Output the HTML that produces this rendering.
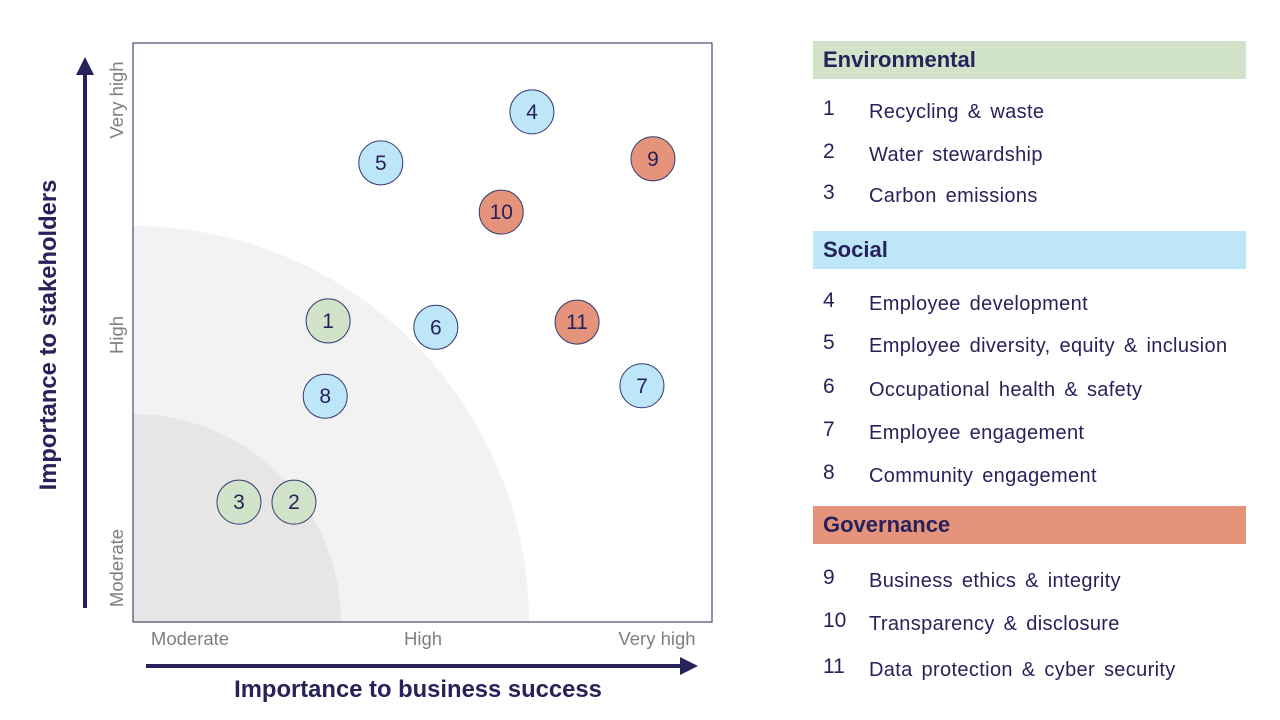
<!DOCTYPE html>
<html style="overflow:hidden"><head><meta charset="utf-8"><style>
html,body{overflow:hidden}
body{margin:0;width:1280px;height:720px;background:#fff;font-family:"Liberation Sans",sans-serif;color:#27225a;position:relative;overflow:hidden}
.hdr{position:absolute;left:813px;width:433px;height:38px;font-weight:bold;font-size:22px;line-height:38px;padding-left:10px;box-sizing:border-box}
.it{position:absolute;left:823px;font-size:21px}
.it span{position:absolute;left:46px;top:4px;white-space:nowrap;font-size:20px;letter-spacing:0.35px;word-spacing:3px}
</style></head><body>
<svg id="chart" width="780" height="720" style="position:absolute;left:0;top:0" font-family="Liberation Sans, sans-serif"></svg>
<div class="hdr" style="top:41px;background:#d1e4c9">Environmental</div>
<div class="it" style="top:97px">1<span>Recycling &amp; waste</span></div>
<div class="it" style="top:140px">2<span>Water stewardship</span></div>
<div class="it" style="top:181px">3<span>Carbon emissions</span></div>
<div class="hdr" style="top:231px;background:#bde6f9">Social</div>
<div class="it" style="top:289px">4<span>Employee development</span></div>
<div class="it" style="top:331px">5<span>Employee diversity, equity &amp; inclusion</span></div>
<div class="it" style="top:375px">6<span>Occupational health &amp; safety</span></div>
<div class="it" style="top:418px">7<span>Employee engagement</span></div>
<div class="it" style="top:461px">8<span>Community engagement</span></div>
<div class="hdr" style="top:506px;background:#e5937a">Governance</div>
<div class="it" style="top:566px">9<span>Business ethics &amp; integrity</span></div>
<div class="it" style="top:609px">10<span>Transparency &amp; disclosure</span></div>
<div class="it" style="top:655px">11<span>Data protection &amp; cyber security</span></div>
<script>
const ids=[1,2,3,4,5,6,7,8,9,10,11];
const xVals=[33.7,27.8,18.3,68.9,42.8,52.3,87.9,33.2,89.8,63.6,76.7];
const yVals=[52,20.7,20.7,88.1,79.3,50.9,40.8,39,80,70.8,51.8];
const cats=["env","env","env","soc","soc","soc","soc","soc","gov","gov","gov"];
const xTicks=["Moderate","High","Very high"];
const yTicks=["Moderate","High","Very high"];
const colors={env:"#d1e4c9",soc:"#bde6f9",gov:"#e5937a"};
const L=133,T=43,W=579,H=579;
const sx=v=>L+v/100*W, sy=v=>T+H-v/100*H;
const svg=document.getElementById('chart');const NS="http://www.w3.org/2000/svg";
function mk(t,a,p){const e=document.createElementNS(NS,t);for(const k in a)e.setAttribute(k,a[k]);(p||svg).appendChild(e);return e;}
const clip=mk('clipPath',{id:'pc'});mk('rect',{x:L,y:T,width:W,height:H},clip);
const g=mk('g',{'clip-path':'url(#pc)'});
let e=mk('circle',{cx:L,cy:T+H,r:396,fill:'#f2f2f2'},g);
e=mk('circle',{cx:L,cy:T+H,r:208,fill:'#e6e6e6'},g);
e=mk('rect',{x:L,y:T,width:W,height:H,fill:'none',stroke:'#27225a','stroke-width':1});
ids.forEach((id,i)=>{const cx=sx(xVals[i]),cy=sy(yVals[i]);
const c=mk('circle',{cx:cx,cy:cy,r:22,fill:colors[cats[i]],stroke:'#3a3f75','stroke-width':1});

const t=mk('text',{x:cx,y:cy+7,'text-anchor':'middle','font-size':21,fill:'#27225a'});t.textContent=id;
});
const xp=[190,423,657];xTicks.forEach((s,i)=>{const t=mk('text',{x:xp[i],y:645,'text-anchor':'middle','font-size':18.5,fill:'#7f7f7f'});t.textContent=s;});
const yp=[568,335,100];yTicks.forEach((s,i)=>{const t=mk('text',{x:0,y:0,'text-anchor':'middle','font-size':18.5,fill:'#7f7f7f',transform:`translate(123,${yp[i]}) rotate(-90)`});t.textContent=s;});
e=mk('line',{x1:146,y1:666,x2:682,y2:666,stroke:'#27225a','stroke-width':4});
mk('polygon',{points:'680,657 698,666 680,675',fill:'#27225a'});
e=mk('line',{x1:85,y1:608,x2:85,y2:72,stroke:'#27225a','stroke-width':4});
mk('polygon',{points:'76,75 85,57 94,75',fill:'#27225a'});
e=mk('text',{x:418,y:697,'text-anchor':'middle','font-size':23.8,'font-weight':'bold',fill:'#27225a'});e.textContent='Importance to business success';
e=mk('text',{x:0,y:0,'text-anchor':'middle','font-size':23.8,'font-weight':'bold',fill:'#27225a',transform:'translate(56,335) rotate(-90)'});e.textContent='Importance to stakeholders';
</script>
</body></html>
